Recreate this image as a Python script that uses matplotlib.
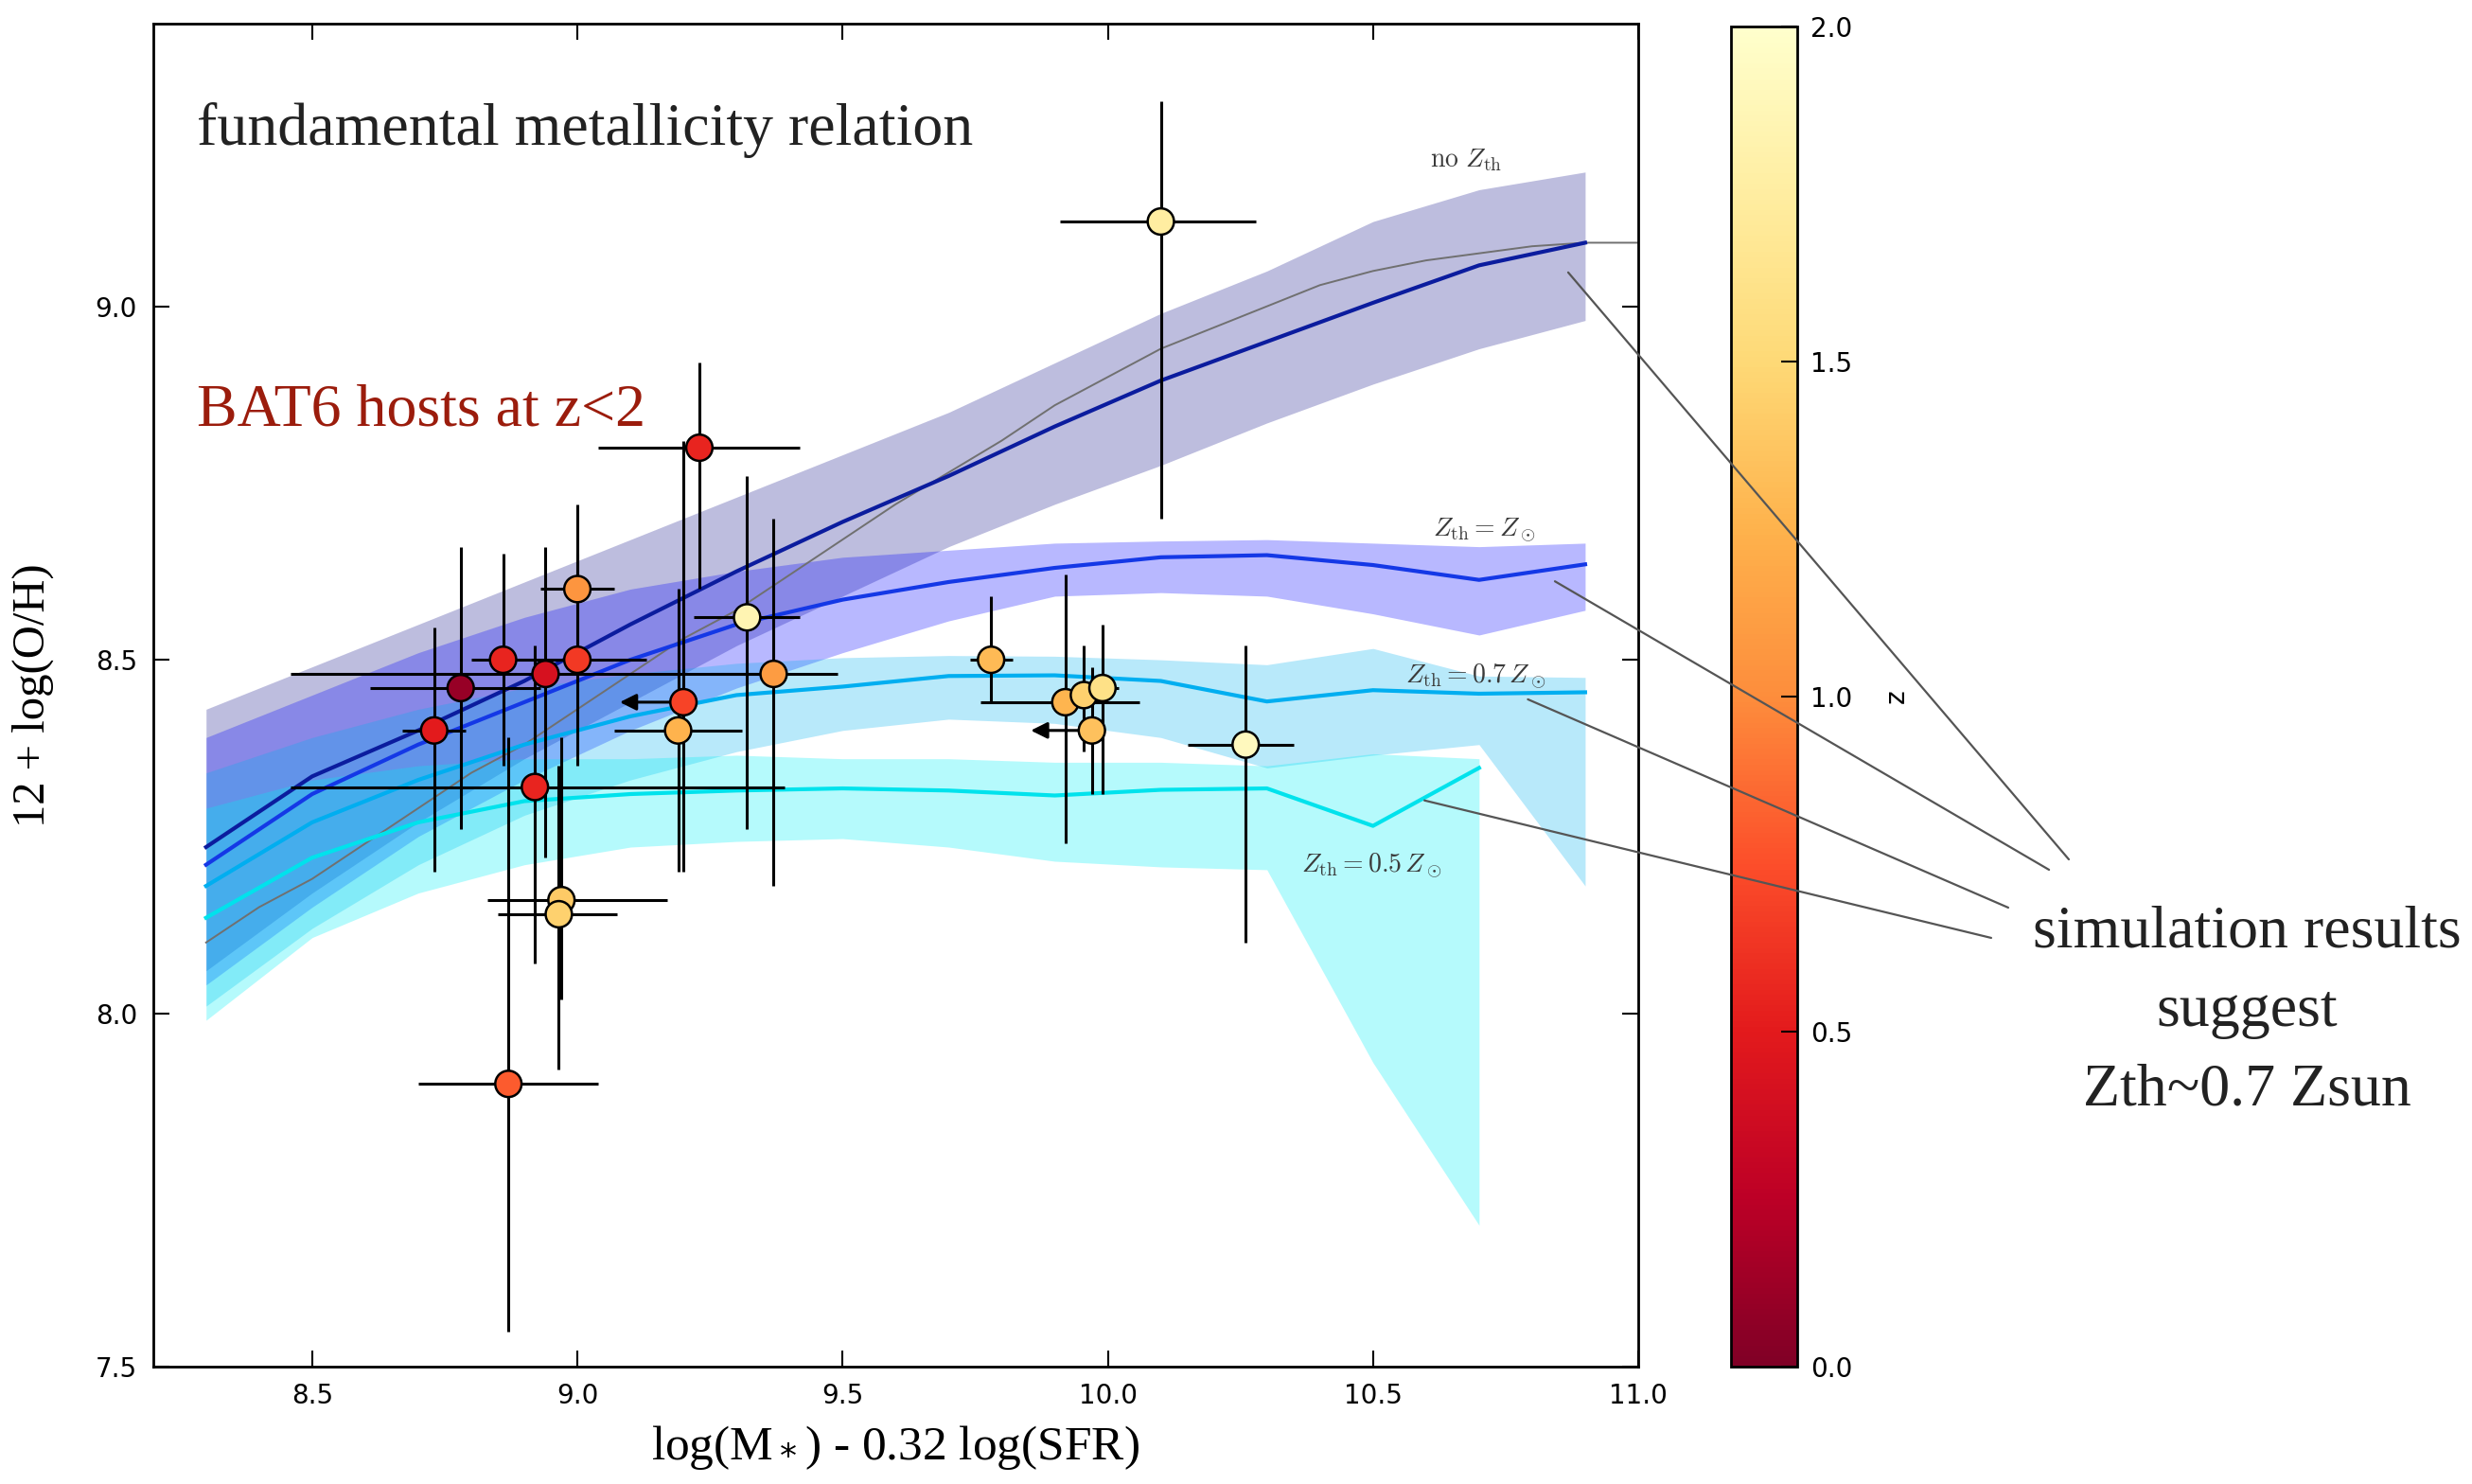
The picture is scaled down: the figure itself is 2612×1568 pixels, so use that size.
import numpy as np
import matplotlib.pyplot as plt
from matplotlib import cm, colors
from matplotlib.patches import ConnectionPatch

# model grid in log(M*) - 0.32 log(SFR)
xgrid = [8.3, 8.5, 8.7, 8.9, 9.1, 9.3, 9.5, 9.7, 9.9, 10.1, 10.3, 10.5, 10.7, 10.9]

nozth_mid = [8.235, 8.335, 8.40, 8.47, 8.55, 8.625, 8.695, 8.76, 8.83, 8.895, 8.95, 9.005, 9.058, 9.09]
nozth_hi = [8.43, 8.49, 8.55, 8.61, 8.67, 8.73, 8.79, 8.85, 8.92, 8.99, 9.05, 9.12, 9.165, 9.19]
nozth_lo = [8.06, 8.17, 8.27, 8.36, 8.44, 8.52, 8.59, 8.66, 8.72, 8.775, 8.835, 8.89, 8.94, 8.98]

zsun_mid = [8.21, 8.31, 8.38, 8.44, 8.50, 8.55, 8.585, 8.61, 8.63, 8.645, 8.648, 8.634, 8.613, 8.635]
zsun_hi = [8.39, 8.45, 8.51, 8.56, 8.60, 8.625, 8.645, 8.655, 8.665, 8.668, 8.67, 8.665, 8.66, 8.665]
zsun_lo = [8.04, 8.15, 8.25, 8.33, 8.40, 8.46, 8.51, 8.555, 8.59, 8.595, 8.59, 8.565, 8.535, 8.57]

z07_mid = [8.18, 8.27, 8.33, 8.38, 8.42, 8.45, 8.462, 8.477, 8.478, 8.47, 8.441, 8.457, 8.452, 8.454]
z07_hi = [8.34, 8.39, 8.43, 8.46, 8.48, 8.495, 8.503, 8.506, 8.505, 8.50, 8.493, 8.516, 8.477, 8.475]
z07_lo = [8.01, 8.12, 8.21, 8.28, 8.33, 8.37, 8.40, 8.416, 8.41, 8.39, 8.347, 8.365, 8.38, 8.18]

xgrid05 = [8.3, 8.5, 8.7, 8.9, 9.1, 9.3, 9.5, 9.7, 9.9, 10.1, 10.3, 10.5, 10.7]
z05_mid = [8.135, 8.22, 8.27, 8.30, 8.31, 8.315, 8.318, 8.315, 8.308, 8.316, 8.318, 8.265, 8.347]
z05_hi = [8.29, 8.33, 8.35, 8.36, 8.36, 8.365, 8.36, 8.36, 8.355, 8.355, 8.35, 8.367, 8.36]
z05_lo = [7.99, 8.107, 8.17, 8.21, 8.235, 8.243, 8.247, 8.235, 8.215, 8.207, 8.203, 7.93, 7.70]

# observed FMR (thin grey curve)
fmr_x = [8.3, 8.4, 8.5, 8.6, 8.7, 8.8, 8.9, 9.0, 9.1, 9.2, 9.3, 9.4, 9.5, 9.6,
         9.7, 9.8, 9.9, 10.0, 10.1, 10.2, 10.3, 10.4, 10.5, 10.6, 10.7, 10.8, 10.9, 11.0]
fmr_y = [8.10, 8.15, 8.19, 8.24, 8.29, 8.34, 8.38, 8.43, 8.48, 8.53, 8.57, 8.62, 8.67, 8.72,
         8.765, 8.81, 8.86, 8.90, 8.94, 8.97, 9.00, 9.03, 9.05, 9.065, 9.075, 9.085, 9.09, 9.09]

# BAT6 hosts
gx = [10.10, 9.23, 9.00, 8.86, 9.00, 8.94, 9.37, 8.78, 8.73, 9.19, 9.32,
      8.97, 8.965, 8.87, 8.92, 9.78, 9.92, 9.955, 9.99, 10.26]
gy = [9.12, 8.80, 8.60, 8.50, 8.50, 8.48, 8.48, 8.46, 8.40, 8.40, 8.56,
      8.16, 8.14, 7.90, 8.32, 8.50, 8.44, 8.45, 8.46, 8.38]
gz = [1.75, 0.55, 1.05, 0.55, 0.65, 0.42, 1.10, 0.10, 0.50, 1.25, 1.85,
      1.40, 1.45, 0.80, 0.55, 1.30, 1.27, 1.45, 1.60, 1.92]
gxlo = [0.19, 0.19, 0.07, 0.06, 0.13, 0.48, 0.12, 0.17, 0.06, 0.12, 0.10,
        0.14, 0.115, 0.17, 0.46, 0.04, 0.16, 0.03, 0.03, 0.11]
gxhi = [0.18, 0.19, 0.07, 0.06, 0.13, 0.45, 0.12, 0.15, 0.06, 0.12, 0.10,
        0.20, 0.11, 0.17, 0.47, 0.04, 0.14, 0.03, 0.03, 0.09]
gylo = [0.42, 0.20, 0.12, 0.15, 0.15, 0.26, 0.30, 0.20, 0.20, 0.20, 0.30,
        0.14, 0.22, 0.35, 0.25, 0.06, 0.20, 0.08, 0.15, 0.28]
gyhi = [0.17, 0.12, 0.12, 0.15, 0.15, 0.18, 0.22, 0.20, 0.145, 0.20, 0.20,
        0.23, 0.21, 0.49, 0.20, 0.09, 0.18, 0.07, 0.09, 0.14]

# hosts with upper limits on the x quantity
lx = [9.20, 9.97]
ly = [8.44, 8.40]
lz = [0.70, 1.35]
ltip = [9.08, 9.855]
lylo = [0.24, 0.09]
lyhi = [0.37, 0.09]

cmap = plt.get_cmap('YlOrRd_r')
norm = colors.Normalize(vmin=0, vmax=2)

fig = plt.figure(figsize=(26.12, 15.68), dpi=100, facecolor='white')
ax = fig.add_axes([0.0619, 0.0791, 0.6008, 0.905])
cax = fig.add_axes([0.7003, 0.0791, 0.0268, 0.9029])

serif = 'Liberation Serif'

ax.fill_between(xgrid, nozth_lo, nozth_hi, color='#000080', alpha=0.26, lw=0, zorder=1)
ax.fill_between(xgrid, zsun_lo, zsun_hi, color='#0000ff', alpha=0.28, lw=0, zorder=1)
ax.fill_between(xgrid, z07_lo, z07_hi, color='#00b0f0', alpha=0.28, lw=0, zorder=1)
ax.fill_between(xgrid05, z05_lo, z05_hi, color='#00f0f5', alpha=0.29, lw=0, zorder=1)

ax.plot(fmr_x, fmr_y, color='#707070', lw=1.4, zorder=2)
ax.plot(xgrid, nozth_mid, color='#0b1c9e', lw=3, zorder=3)
ax.plot(xgrid, zsun_mid, color='#1438e6', lw=3, zorder=3)
ax.plot(xgrid, z07_mid, color='#00aef0', lw=3, zorder=3)
ax.plot(xgrid05, z05_mid, color='#00e2ec', lw=3, zorder=3)

ax.errorbar(gx, gy, xerr=[gxlo, gxhi], yerr=[gylo, gyhi], fmt='none',
            ecolor='k', elinewidth=2.2, capsize=0, zorder=5)
ax.errorbar(lx, ly, yerr=[lylo, lyhi], fmt='none', ecolor='k',
            elinewidth=2.2, capsize=0, zorder=5)
for x0, y0, xt in zip(lx, ly, ltip):
    ax.annotate('', xy=(xt, y0), xytext=(x0, y0), zorder=5,
                arrowprops=dict(arrowstyle='-|>', color='k', lw=2.2,
                                mutation_scale=26, shrinkA=0, shrinkB=0))
ax.scatter(gx + lx, gy + ly, c=gz + lz, cmap=cmap, norm=norm, s=20 ** 2,
           edgecolors='k', linewidths=1.8, zorder=6)

# curve labels
lab_kw = dict(color='#3a3a3a', fontsize=20, math_fontfamily='cm', ha='center', va='baseline')
ax.text(10.676, 9.198, r'$\mathrm{no}\ Z_{\rm th}$', **lab_kw)
ax.text(10.71, 8.675, r'$Z_{\rm th} = Z_\odot$', **lab_kw)
ax.text(10.694, 8.467, r'$Z_{\rm th} = 0.7\,Z_\odot$', **lab_kw)
ax.text(10.498, 8.20, r'$Z_{\rm th} = 0.5\,Z_\odot$', **lab_kw)

ax.text(0.0296, 0.91, 'fundamental metallicity relation', transform=ax.transAxes,
        fontsize=46, family=serif, color='#222222', va='baseline')
ax.text(0.0296, 0.7005, 'BAT6 hosts at z<2', transform=ax.transAxes,
        fontsize=46, family=serif, color='#9b1c0c', va='baseline')

ax.set_xlim(8.2, 11.0)
ax.set_ylim(7.5, 9.4)
ax.set_xticks([8.5, 9.0, 9.5, 10.0, 10.5, 11.0])
ax.set_xticklabels(['8.5', '9.0', '9.5', '10.0', '10.5', '11.0'])
ax.set_yticks([7.5, 8.0, 8.5, 9.0])
ax.set_yticklabels(['7.5', '8.0', '8.5', '9.0'])
ax.tick_params(direction='in', length=12, width=1.5, top=True, right=True,
               labelsize=20, pad=12)
for sp in ax.spines.values():
    sp.set_linewidth(2.0)

ax.set_xlabel(r'log(M$_*$) - 0.32 log(SFR)', fontsize=37, family=serif)
ax.xaxis.set_label_coords(0.5, -0.042)
ax.set_ylabel('12 + log(O/H)', fontsize=35, family=serif)
ax.yaxis.set_label_coords(-0.0667, 0.5)

sm = cm.ScalarMappable(norm=norm, cmap=cmap)
cb = fig.colorbar(sm, cax=cax)
cb.set_ticks([0.0, 0.5, 1.0, 1.5, 2.0])
cb.ax.tick_params(direction='in', length=12, width=1.5, labelsize=20, pad=10)
cb.outline.set_linewidth(2.0)
cax.text(2.5, 0.5, 'z', rotation=90, transform=cax.transAxes,
         ha='center', va='center', fontsize=20)

# pointer lines to the note on the right
ann_x = [10.868, 10.843, 10.792, 10.597]
ann_y = [9.048, 8.611, 8.444, 8.301]
ann_fx = [0.8369, 0.8289, 0.8124, 0.8055]
ann_fy = [0.4209, 0.4139, 0.3884, 0.3680]
for xa, ya, xb, yb in zip(ann_x, ann_y, ann_fx, ann_fy):
    con = ConnectionPatch(xyA=(xa, ya), coordsA=ax.transData,
                          xyB=(xb, yb), coordsB=fig.transFigure,
                          color='#555555', lw=1.6, zorder=10)
    fig.add_artist(con)

sim_lines = ['simulation results', 'suggest', 'Zth~0.7 Zsun']
sim_base = [0.3619, 0.3088, 0.2557]
for t, yb in zip(sim_lines, sim_base):
    fig.text(0.909, yb, t, ha='center', va='baseline', fontsize=46,
             family=serif, color='#222222')

fig.savefig('out.png', dpi=100, facecolor='white')
